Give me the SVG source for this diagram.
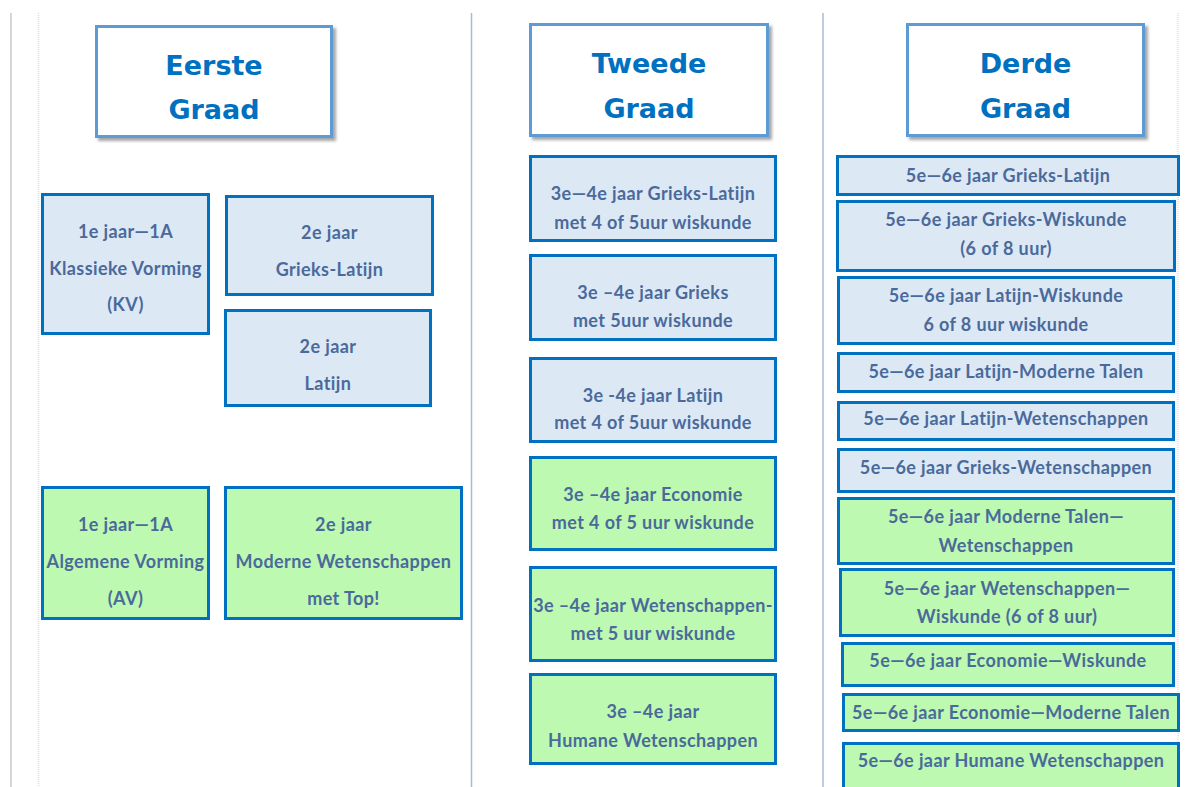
<svg xmlns="http://www.w3.org/2000/svg" width="1188" height="787" viewBox="0 0 1188 787">
<defs>
<filter id="sh" x="-10%" y="-10%" width="125%" height="130%">
<feDropShadow dx="3" dy="3" stdDeviation="1.5" flood-color="#000" flood-opacity="0.35"/>
</filter>
<style>
.bg{fill:#fff}
.hdr rect{fill:#fff;stroke:#5b9bd5;stroke-width:3;filter:url(#sh)}
.hdr text{font-family:"DejaVu Sans",Verdana,sans-serif;font-weight:bold;font-size:27px;fill:#0070c0;text-anchor:middle}
.b rect{fill:#dde8f5;stroke:#0070c0;stroke-width:3}
.g rect{fill:#bdf9b0;stroke:#0070c0;stroke-width:3}
.b text,.g text{font-family:Lato,"Open Sans",sans-serif;font-weight:bold;font-size:18px;letter-spacing:0.4px;fill:#4a6a9b;text-anchor:middle}
.sep{stroke:#a7bbd3;stroke-width:1.5}
.sepg{stroke:#c9c9c9;stroke-width:1.5}
.sepd{stroke:#cfe2f7;stroke-width:1.5;stroke-dasharray:1 1}
</style>
</defs>
<rect class="bg" x="0" y="0" width="1188" height="787"/>
<g id="separators">
<line class="sepg" x1="11" y1="13" x2="11" y2="787"/>
<line class="sepd" x1="38.5" y1="13" x2="38.5" y2="787"/>
<line class="sep" x1="471.5" y1="13" x2="471.5" y2="787"/>
<line class="sep" x1="823" y1="13" x2="823" y2="787"/>
<line class="sepd" x1="1178" y1="13" x2="1178" y2="787"/>
</g>
<g id="connectors"></g>

<g id="h1" class="hdr"><rect x="96.5" y="26.5" width="235" height="110"/><text x="214" y="75">Eerste</text><text x="214" y="119">Graad</text></g>
<g id="h2" class="hdr"><rect x="530.5" y="24.5" width="237" height="111"/><text x="649" y="73">Tweede</text><text x="649" y="118">Graad</text></g>
<g id="h3" class="hdr"><rect x="907.5" y="24.5" width="236" height="111"/><text x="1025.5" y="73">Derde</text><text x="1025.5" y="118">Graad</text></g>

<g id="kv" class="b"><rect x="42.5" y="194.5" width="166" height="139"/><text x="125.5" y="238">1e jaar—1A</text><text x="125.5" y="275">Klassieke Vorming</text><text x="125.5" y="311">(KV)</text></g>
<g id="gl2" class="b"><rect x="226.5" y="196.5" width="206" height="98"/><text x="329.5" y="239">2e jaar</text><text x="329.5" y="276">Grieks-Latijn</text></g>
<g id="l2" class="b"><rect x="225.5" y="310.5" width="205" height="95"/><text x="328" y="353">2e jaar</text><text x="328" y="390">Latijn</text></g>
<g id="av" class="g"><rect x="42.5" y="487.5" width="166" height="131"/><text x="125.5" y="531">1e jaar—1A</text><text x="125.5" y="568">Algemene Vorming</text><text x="125.5" y="605">(AV)</text></g>
<g id="mw2" class="g"><rect x="225.5" y="487.5" width="236" height="131"/><text x="343.5" y="531">2e jaar</text><text x="343.5" y="568">Moderne Wetenschappen</text><text x="343.5" y="605">met Top!</text></g>

<g id="m1" class="b"><rect x="530.5" y="156.5" width="245" height="84"/><text x="653" y="200">3e—4e jaar Grieks-Latijn</text><text x="653" y="229">met 4 of 5uur wiskunde</text></g>
<g id="m2" class="b"><rect x="530.5" y="255.5" width="245" height="84"/><text x="653" y="299">3e –4e jaar Grieks</text><text x="653" y="327">met 5uur wiskunde</text></g>
<g id="m3" class="b"><rect x="530.5" y="358.5" width="245" height="83"/><text x="653" y="402">3e -4e jaar Latijn</text><text x="653" y="429">met 4 of 5uur wiskunde</text></g>
<g id="m4" class="g"><rect x="530.5" y="457.5" width="245" height="92"/><text x="653" y="501">3e –4e jaar Economie</text><text x="653" y="529">met 4 of 5 uur wiskunde</text></g>
<g id="m5" class="g"><rect x="530.5" y="567.5" width="245" height="93"/><text x="653" y="612">3e –4e jaar Wetenschappen-</text><text x="653" y="640">met 5 uur wiskunde</text></g>
<g id="m6" class="g"><rect x="530.5" y="674.5" width="245" height="89"/><text x="653" y="718">3e –4e jaar</text><text x="653" y="747">Humane Wetenschappen</text></g>

<g id="r1" class="b"><rect x="837.5" y="156.5" width="341" height="38"/><text x="1008" y="182">5e—6e jaar Grieks-Latijn</text></g>
<g id="r2" class="b"><rect x="837.5" y="201.5" width="337" height="69"/><text x="1006" y="226">5e—6e jaar Grieks-Wiskunde</text><text x="1006" y="255">(6 of 8 uur)</text></g>
<g id="r3" class="b"><rect x="838.5" y="277.5" width="335" height="66"/><text x="1006" y="302">5e—6e jaar Latijn-Wiskunde</text><text x="1006" y="331">6 of 8 uur wiskunde</text></g>
<g id="r4" class="b"><rect x="838.5" y="353.5" width="335" height="38"/><text x="1006" y="378">5e—6e jaar Latijn-Moderne Talen</text></g>
<g id="r5" class="b"><rect x="838.5" y="402.5" width="335" height="37"/><text x="1006" y="425">5e—6e jaar Latijn-Wetenschappen</text></g>
<g id="r6" class="b"><rect x="838.5" y="449.5" width="335" height="42"/><text x="1006" y="474">5e—6e jaar Grieks-Wetenschappen</text></g>
<g id="r7" class="g"><rect x="838.5" y="498.5" width="335" height="65"/><text x="1006" y="523">5e—6e jaar Moderne Talen—</text><text x="1006" y="552">Wetenschappen</text></g>
<g id="r8" class="g"><rect x="840.5" y="569.5" width="333" height="66"/><text x="1007" y="595">5e—6e jaar Wetenschappen—</text><text x="1007" y="623">Wiskunde (6 of 8 uur)</text></g>
<g id="r9" class="g"><rect x="842.5" y="643.5" width="331" height="42"/><text x="1008" y="667">5e—6e jaar Economie—Wiskunde</text></g>
<g id="r10" class="g"><rect x="843.5" y="694.5" width="335" height="36"/><text x="1011" y="719">5e—6e jaar Economie—Moderne Talen</text></g>
<g id="r11" class="g"><rect x="843.5" y="743.5" width="335" height="60"/><text x="1011" y="767">5e—6e jaar Humane Wetenschappen</text></g>
</svg>
